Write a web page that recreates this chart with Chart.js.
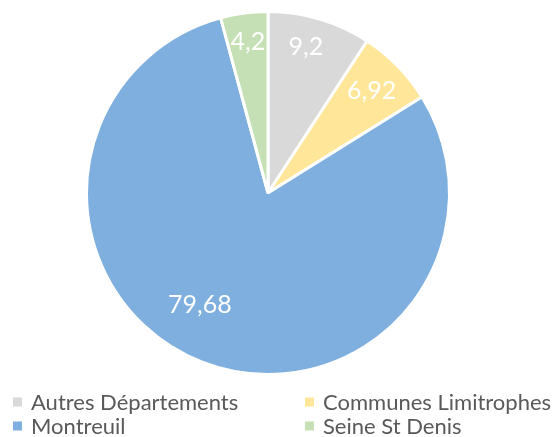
<!DOCTYPE html>
<html>
<head>
<meta charset="utf-8">
<script src="https://cdn.jsdelivr.net/npm/chart.js@4.4.0/dist/chart.umd.min.js"></script>
<style>
  html, body { margin: 0; padding: 0; background: #fff; }
  #wrap { width: 553px; height: 437px; }
</style>
</head>
<body>
<div id="wrap"><canvas id="pieChart" width="553" height="437"></canvas></div>
<script>
const categories = ["Autres Départements", "Communes Limitrophes", "Montreuil", "Seine St Denis"]
const values = [9.2, 6.92, 79.68, 4.2]
const valueLabels = ["9,2", "6,92", "79,68", "4,2"]
const colors = ["#D9D9D9", "#FFE699", "#7EAFDE", "#C5E0B4"]

// label placement inside each slice: radius fraction and angle nudge (degrees)
const labelFrac = [0.83, 0.8, 0.72, 0.84]
const labelNudge = [-2, 0, 10, 0]

const sliceLabels = {
    id: 'sliceLabels',
    afterDatasetsDraw(chart) {
        const ctx = chart.ctx
        const arcs = chart.getDatasetMeta(0).data
        ctx.save()
        ctx.fillStyle = '#fff'
        ctx.font = '25px Lato'
        ctx.textAlign = 'center'
        ctx.textBaseline = 'middle'
        arcs.forEach((arc, i) => {
            const p = arc.getProps(['x', 'y', 'startAngle', 'endAngle', 'outerRadius'], true)
            const a = (p.startAngle + p.endAngle) / 2 + labelNudge[i] * Math.PI / 180
            const r = p.outerRadius * labelFrac[i]
            ctx.fillText(valueLabels[i], p.x + Math.cos(a) * r, p.y + Math.sin(a) * r)
        })
        ctx.restore()
    }
}

const gridLegend = {
    id: 'gridLegend',
    afterDraw(chart) {
        const ctx = chart.ctx
        const cols = [13, 305]
        const rows = [402, 426]
        ctx.save()
        ctx.font = '22px Lato'
        ctx.textBaseline = 'middle'
        categories.forEach((name, i) => {
            const x = cols[i % 2]
            const y = rows[Math.floor(i / 2)]
            ctx.fillStyle = colors[i]
            ctx.fillRect(x, y - 4.5, 9, 9)
            ctx.fillStyle = '#595959'
            ctx.fillText(name, x + 18, y + 1)
        })
        ctx.restore()
    }
}

new Chart(document.getElementById('pieChart').getContext('2d'), {
    type: 'pie',
    data: {
        labels: categories,
        datasets: [{
            data: values,
            backgroundColor: colors,
            borderColor: '#fff',
            borderWidth: 3
        }]
    },
    options: {
        responsive: false,
        animation: false,
        layout: { padding: { top: 10, bottom: 61, left: 85, right: 102 } },
        plugins: {
            legend: { display: false },
            tooltip: { enabled: false }
        }
    },
    plugins: [sliceLabels, gridLegend]
})
</script>
</body>
</html>
